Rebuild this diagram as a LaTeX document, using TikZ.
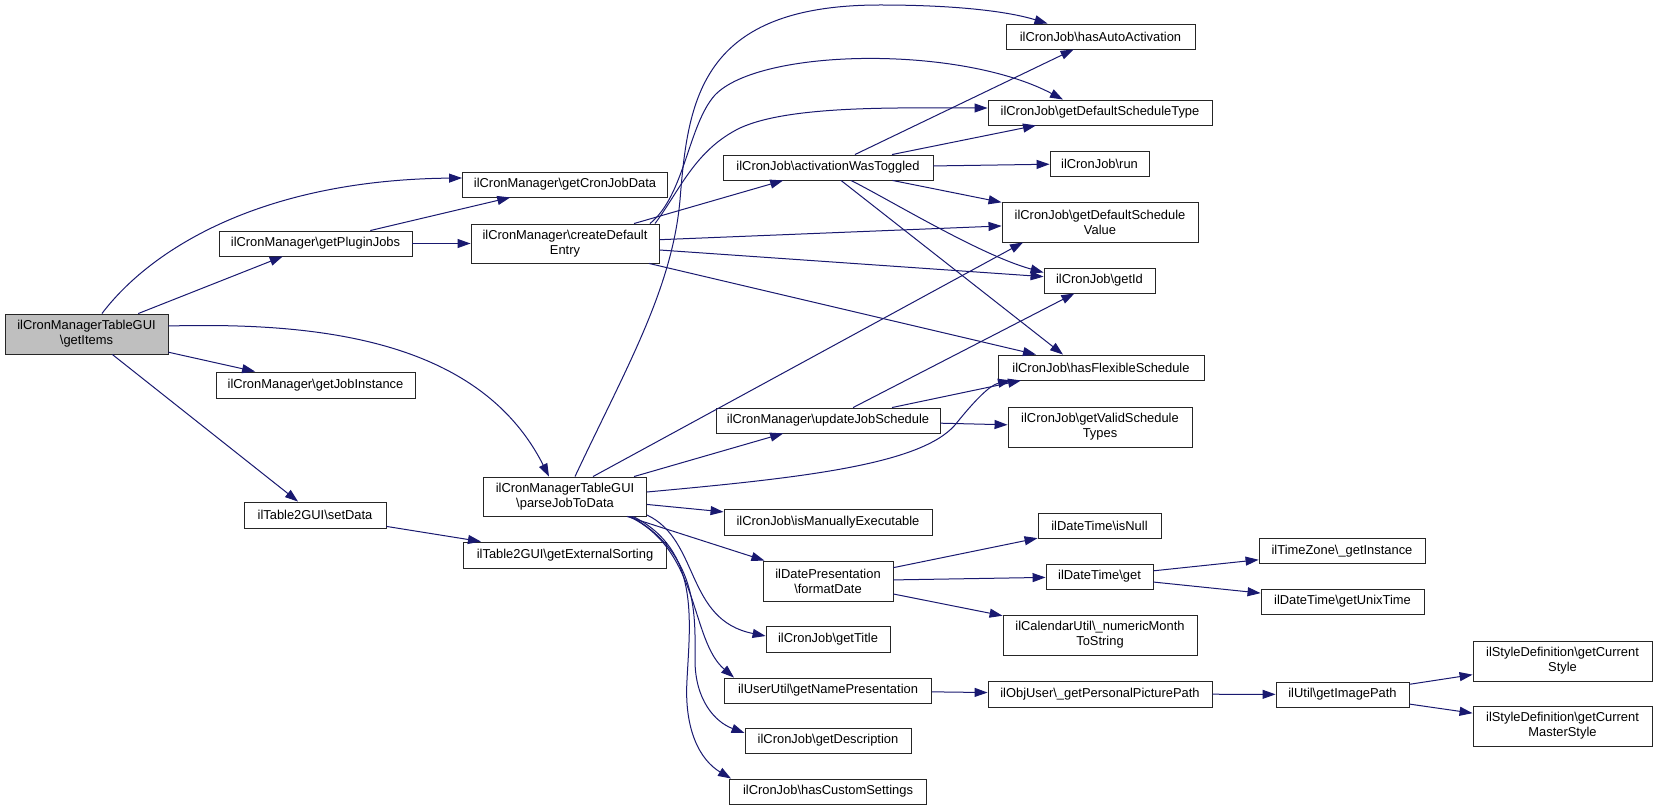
\documentclass[tikz,border=0pt]{standalone}
\usepackage{fontspec}
\setmainfont{Liberation Sans}
\usetikzlibrary{arrows.meta}
\definecolor{edgecol}{HTML}{191970}
\definecolor{rootfill}{HTML}{BFBFBF}
\newcommand{\bsl}{\textbackslash{}}
\begin{document}
\begin{tikzpicture}[x=1pt,y=-1pt,
  box/.style={draw=black!85, line width=0.9pt, fill=white, rectangle, inner sep=0pt, align=center,
    font=\fontsize{12.9}{15}\selectfont, text=black},
  edge/.style={draw=edgecol, line width=1pt, -{Triangle[length=13pt,width=9pt]}, fill=none},
]
\useasboundingbox (0,0) rectangle (1657,810);
\fill[white] (0,0) rectangle (1657,810);
% nodes
\node[box, fill=rootfill, minimum width=163, minimum height=40] (gi) at (86.5,334) {ilCronManagerTableGUI\\\bsl getItems};
\node[box, minimum width=205, minimum height=25] (gcjd) at (565,184.5) {ilCronManager\bsl getCronJobData};
\node[box, minimum width=193, minimum height=25] (gpj) at (315.5,243.5) {ilCronManager\bsl getPluginJobs};
\node[box, minimum width=199, minimum height=26] (gji) at (315.5,385) {ilCronManager\bsl getJobInstance};
\node[box, minimum width=142, minimum height=26] (sd) at (315,515) {ilTable2GUI\bsl setData};
\node[box, minimum width=188, minimum height=39] (cde) at (565,243.5) {ilCronManager\bsl createDefault\\Entry};
\node[box, minimum width=163, minimum height=39] (ptd) at (565,496.5) {ilCronManagerTableGUI\\\bsl parseJobToData};
\node[box, minimum width=203, minimum height=26] (ges) at (565,555) {ilTable2GUI\bsl getExternalSorting};
\node[box, minimum width=210, minimum height=25] (awt) at (828,167.5) {ilCronJob\bsl activationWasToggled};
\node[box, minimum width=224, minimum height=25] (ujs) at (828,420.5) {ilCronManager\bsl updateJobSchedule};
\node[box, minimum width=208, minimum height=26] (ime) at (828,522) {ilCronJob\bsl isManuallyExecutable};
\node[box, minimum width=130, minimum height=40] (fd) at (828,581) {ilDatePresentation\\\bsl formatDate};
\node[box, minimum width=124, minimum height=26] (gt) at (828,639) {ilCronJob\bsl getTitle};
\node[box, minimum width=207, minimum height=25] (gnp) at (828,690.5) {ilUserUtil\bsl getNamePresentation};
\node[box, minimum width=166, minimum height=25] (gdesc) at (828,740.5) {ilCronJob\bsl getDescription};
\node[box, minimum width=197, minimum height=25] (hcs) at (828,791.5) {ilCronJob\bsl hasCustomSettings};
\node[box, minimum width=189, minimum height=25] (haa) at (1100.5,36.5) {ilCronJob\bsl hasAutoActivation};
\node[box, minimum width=224, minimum height=25] (gdst) at (1100,112.5) {ilCronJob\bsl getDefaultScheduleType};
\node[box, minimum width=99, minimum height=25] (run) at (1099.5,163.5) {ilCronJob\bsl run};
\node[box, minimum width=196, minimum height=40] (gdsv) at (1100,222) {ilCronJob\bsl getDefaultSchedule\\Value};
\node[box, minimum width=111, minimum height=25] (gid) at (1099.5,280.5) {ilCronJob\bsl getId};
\node[box, minimum width=206, minimum height=25] (hfs) at (1101,367.5) {ilCronJob\bsl hasFlexibleSchedule};
\node[box, minimum width=184, minimum height=40] (gvst) at (1100,427) {ilCronJob\bsl getValidSchedule\\Types};
\node[box, minimum width=123, minimum height=25] (isnull) at (1099.5,525.5) {ilDateTime\bsl isNull};
\node[box, minimum width=107, minimum height=25] (dtget) at (1099.5,576.5) {ilDateTime\bsl get};
\node[box, minimum width=194, minimum height=40] (nmts) at (1100,635) {ilCalendarUtil\bsl\_numericMonth\\ToString};
\node[box, minimum width=224, minimum height=26] (gppp) at (1100,694) {ilObjUser\bsl\_getPersonalPicturePath};
\node[box, minimum width=166, minimum height=25] (tzgi) at (1342,551) {ilTimeZone\bsl\_getInstance};
\node[box, minimum width=163, minimum height=25] (gut) at (1342.5,601.5) {ilDateTime\bsl getUnixTime};
\node[box, minimum width=133, minimum height=25] (uip) at (1342.5,694.5) {ilUtil\bsl getImagePath};
\node[box, minimum width=179, minimum height=40] (gcs) at (1562.5,661) {ilStyleDefinition\bsl getCurrent\\Style};
\node[box, minimum width=179, minimum height=40] (gcms) at (1562.5,726) {ilStyleDefinition\bsl getCurrent\\MasterStyle};
% edges from getItems
\draw[edge] (gi) .. controls (150,250) and (260,180) .. ([yshift=6.5]gcjd.west);
\draw[edge] (gi) -- (gpj);
\draw[edge] ([yshift=8]gi.east) .. controls (320,322) and (480,340) .. ([xshift=-16]ptd.north);
\draw[edge] (gi) -- (gji);
\draw[edge] (gi) -- (sd);
\draw[edge] (gpj) -- (gcjd);
\draw[edge] (gpj) -- (cde);
\draw[edge] (sd) -- (ges);
% createDefaultEntry
\draw[edge] (cde) -- (awt);
\draw[edge] ([xshift=85]cde.north) .. controls (685,195) and (688,125) .. (715,95)
  .. controls (760,48) and (960,45) .. ([xshift=-37]gdst.north);
\draw[edge] ([xshift=90]cde.north) .. controls (680,190) and (695,150) .. (740,128)
  .. controls (790,105) and (900,108) .. ([yshift=4.5]gdst.west);
\draw[edge] (cde) -- (gdsv);
\draw[edge] (cde) -- (gid);
\draw[edge] ([xshift=84]cde.south) -- ([xshift=-65]hfs.north);
% activationWasToggled
\draw[edge] (awt) -- (haa);
\draw[edge] (awt) -- (gdst);
\draw[edge] (awt) -- (run);
\draw[edge] (awt) -- (gdsv);
\draw[edge] ([xshift=23]awt.south) .. controls (890,200) and (980,255) .. ([yshift=8]gid.west);
\draw[edge] ([xshift=13]awt.south) -- ([xshift=-38]hfs.north);
% updateJobSchedule
\draw[edge] (ujs) -- (gvst);
\draw[edge] (ujs) -- (gid);
\draw[edge] ([xshift=64]ujs.north) -- ([xshift=-80]hfs.south);
% parseJobToData
\draw[edge] ([xshift=10]ptd.north) .. controls (625,370) and (672,290) .. (680,200)
  .. controls (688,100) and (700,5) .. (880,5)
  .. controls (960,5) and (1010,12) .. ([xshift=-53]haa.north);
\draw[edge] ([xshift=28]ptd.north) -- ([xshift=-77]gdsv.south);
\draw[edge] (ptd) -- (ujs);
\draw[edge] ([yshift=4.5]ptd.east) .. controls (800,478) and (920,465) .. (955,425)
  .. controls (975,400) and (990,385) .. ([xshift=-90]hfs.south);
\draw[edge] (ptd) -- (ime);
\draw[edge] (ptd) -- (fd);
\draw[edge] ([yshift=-18.5]ptd.east) .. controls (700,540) and (685,620) .. ([yshift=3]gt.west);
\draw[edge] ([xshift=-18]ptd.south east) .. controls (700,550) and (690,640) .. ([xshift=-94]gnp.north);
\draw[edge] ([xshift=-16]ptd.south east) .. controls (700,555) and (695,620) .. (695,660)
  .. controls (695,700) and (715,722) .. ([yshift=7.5]gdesc.west);
\draw[edge] ([xshift=-14]ptd.south east) .. controls (700,550) and (690,620) .. (687,680)
  .. controls (684,730) and (700,760) .. ([xshift=2]hcs.north west);
% formatDate and others
\draw[edge] (fd) -- (isnull);
\draw[edge] (fd) -- (dtget);
\draw[edge] (fd) -- (nmts);
\draw[edge] (dtget) -- (tzgi);
\draw[edge] (dtget) -- (gut);
\draw[edge] (gnp) -- (gppp);
\draw[edge] (gppp) -- (uip);
\draw[edge] (uip) -- (gcs);
\draw[edge] (uip) -- (gcms);
\end{tikzpicture}
\end{document}
